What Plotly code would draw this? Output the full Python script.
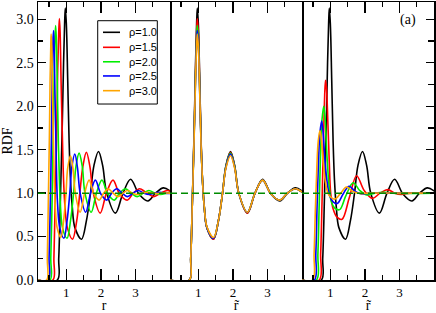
import plotly.graph_objects as go

# ---------------- data ----------------
labels = ["ρ=1.0", "ρ=1.5", "ρ=2.0", "ρ=2.5", "ρ=3.0"]
colors = ["#000000", "#ff0000", "#00ee00", "#0000ff", "#ffa500"]

# panel (left): g(r)
r_10 = [0.17, 0.74, 0.78, 0.83, 0.88, 0.92, 0.95, 0.97, 1.00, 1.04, 1.08, 1.12, 1.17, 1.25, 1.44, 1.58,
        1.70, 1.80, 1.93, 2.05, 2.17, 2.42, 2.64, 2.86, 3.10, 3.36, 3.58, 3.81, 4.02]
r_15 = [0.17, 0.61, 0.64, 0.68, 0.72, 0.75, 0.78, 0.80, 0.82, 0.85, 0.89, 0.92, 0.96, 1.03, 1.18, 1.30,
        1.39, 1.48, 1.58, 1.68, 1.78, 1.98, 2.16, 2.35, 2.54, 2.76, 2.94, 3.12, 3.30, 3.53, 3.73, 3.92, 4.12]
r_20 = [0.17, 0.53, 0.55, 0.59, 0.62, 0.65, 0.67, 0.69, 0.71, 0.74, 0.77, 0.80, 0.83, 0.89, 1.02, 1.12,
        1.21, 1.28, 1.37, 1.46, 1.54, 1.72, 1.87, 2.03, 2.20, 2.39, 2.54, 2.71, 2.85, 3.05, 3.23, 3.39,
        3.56, 3.73, 3.91, 4.08]
r_25 = [0.17, 0.48, 0.50, 0.54, 0.57, 0.59, 0.61, 0.63, 0.645, 0.67, 0.70, 0.72, 0.75, 0.81, 0.93, 1.02,
        1.10, 1.16, 1.245, 1.32, 1.40, 1.56, 1.70, 1.84, 2.00, 2.17, 2.31, 2.46, 2.59, 2.77, 2.93, 3.08,
        3.24, 3.39, 3.55, 3.71, 3.87, 4.03]
r_30 = [0.17, 0.43, 0.45, 0.48, 0.51, 0.53, 0.55, 0.56, 0.58, 0.60, 0.63, 0.65, 0.68, 0.73, 0.84, 0.92,
        0.99, 1.04, 1.12, 1.19, 1.26, 1.40, 1.53, 1.66, 1.80, 1.95, 2.08, 2.21, 2.33, 2.49, 2.64, 2.77,
        2.91, 3.05, 3.19, 3.34, 3.48, 3.63, 3.77, 4.06]

# panel (middle): g(r~), same curves on the reduced distance
rt_all = [0.17, 0.74, 0.78, 0.83, 0.88, 0.92, 0.95, 0.97, 1.00, 1.04, 1.08, 1.12, 1.17, 1.25, 1.44, 1.58,
          1.70, 1.80, 1.93, 2.05, 2.17, 2.42, 2.64, 2.86, 3.10, 3.36, 3.58, 3.81, 4.02, 4.30, 4.55, 4.78,
          5.02, 5.25, 5.50, 5.75, 6.00, 6.25, 6.50, 7.00]

g_10 = [0, 0, 0.25, 0.95, 1.75, 2.50, 2.95, 3.13, 2.95, 2.30, 1.60, 1.15, 0.85, 0.60, 0.47, 0.68,
        1.00, 1.32, 1.48, 1.32, 1.00, 0.77, 1.00, 1.16, 0.99, 0.91, 1.00, 1.06, 1.02]
g_15 = [0, 0, 0.25, 0.95, 1.72, 2.42, 2.85, 3.01, 2.85, 2.25, 1.58, 1.15, 0.85, 0.60, 0.47, 0.68,
        1.00, 1.31, 1.47, 1.31, 1.00, 0.77, 1.00, 1.15, 0.99, 0.92, 1.00, 1.05, 1.01, 0.96, 1.00, 1.03, 1.00]
g_20 = [0, 0, 0.25, 0.95, 1.70, 2.38, 2.78, 2.93, 2.78, 2.20, 1.56, 1.15, 0.85, 0.60, 0.48, 0.68,
        1.00, 1.31, 1.46, 1.31, 1.00, 0.78, 1.00, 1.15, 0.99, 0.92, 1.00, 1.05, 1.01, 0.96, 1.00, 1.03,
        1.00, 0.985, 1.00, 1.01]
g_25 = [0, 0, 0.25, 0.95, 1.68, 2.34, 2.73, 2.87, 2.73, 2.17, 1.55, 1.15, 0.85, 0.60, 0.48, 0.68,
        1.00, 1.30, 1.45, 1.30, 1.00, 0.78, 1.00, 1.15, 0.99, 0.92, 1.00, 1.05, 1.01, 0.96, 1.00, 1.03,
        1.00, 0.985, 1.00, 1.01, 1.00, 0.995]
g_30 = [0, 0, 0.25, 0.95, 1.66, 2.31, 2.69, 2.83, 2.69, 2.15, 1.54, 1.15, 0.85, 0.61, 0.49, 0.68,
        1.00, 1.29, 1.43, 1.29, 1.00, 0.78, 1.00, 1.15, 0.99, 0.92, 1.00, 1.05, 1.01, 0.96, 1.00, 1.03,
        1.00, 0.985, 1.00, 1.01, 1.00, 0.995, 1.00, 1.00]

# panel (right): second reduced representation
p3_r_15 = [0.17, 0.68, 0.72, 0.76, 0.80, 0.83, 0.86, 0.89, 0.93, 0.97, 1.01, 1.08, 1.20, 1.34, 1.55,
           1.76, 1.98, 2.22, 2.44, 2.66, 2.86, 3.05, 3.30, 3.55, 4.02]
p3_g_15 = [0, 0, 0.30, 0.90, 1.60, 2.05, 2.30, 2.20, 1.80, 1.35, 1.00, 0.82, 0.72, 0.70, 0.95,
           1.20, 1.03, 0.94, 1.00, 1.04, 1.00, 0.985, 1.00, 1.005, 1.00]
p3_r_20 = [0.17, 0.60, 0.64, 0.68, 0.72, 0.76, 0.81, 0.85, 0.90, 0.96, 1.03, 1.12, 1.27, 1.45, 1.66,
           1.85, 2.05, 2.30, 2.55, 2.80, 4.02]
p3_g_20 = [0, 0, 0.30, 0.90, 1.50, 1.85, 2.00, 1.85, 1.45, 1.10, 0.90, 0.83, 0.81, 0.97, 1.12,
           1.03, 0.98, 1.00, 1.01, 1.00, 1.00]
p3_r_25 = [0.17, 0.54, 0.58, 0.62, 0.66, 0.70, 0.75, 0.79, 0.84, 0.90, 0.98, 1.08, 1.20, 1.37, 1.54,
           1.72, 1.90, 2.15, 4.02]
p3_g_25 = [0, 0, 0.30, 0.90, 1.40, 1.70, 1.83, 1.70, 1.40, 1.15, 0.97, 0.90, 0.88, 0.99, 1.08,
           1.02, 0.99, 1.00, 1.00]
p3_r_30 = [0.17, 0.49, 0.53, 0.57, 0.61, 0.65, 0.70, 0.74, 0.79, 0.85, 0.93, 1.02, 1.13, 1.30, 1.47,
           1.65, 1.85, 2.10, 4.02]
p3_g_30 = [0, 0, 0.30, 0.85, 1.30, 1.60, 1.72, 1.62, 1.38, 1.15, 1.00, 0.95, 0.93, 1.00, 1.07,
           1.02, 0.995, 1.00, 1.00]

ytick_vals = [0.0, 0.5, 1.0, 1.5, 2.0, 2.5, 3.0]
ytick_text = ["0.0", "0.5", "1.0", "1.5", "2.0", "2.5", "3.0"]
xtick_vals = [1, 2, 3]
xtick_text = ["1", "2", "3"]
reference_level = 1.0

# ---------------- figure ----------------
panel1 = [(r_10, g_10), (r_15, g_15), (r_20, g_20), (r_25, g_25), (r_30, g_30)]
panel2 = [(rt_all[:len(g)], g) for g in (g_10, g_15, g_20, g_25, g_30)]
panel3 = [(r_10, g_10), (p3_r_15, p3_g_15), (p3_r_20, p3_g_20), (p3_r_25, p3_g_25), (p3_r_30, p3_g_30)]

fig = go.Figure()
for ax_i, panel in enumerate([panel1, panel2, panel3], start=1):
    sfx = "" if ax_i == 1 else str(ax_i)
    for k, (xs, ys) in enumerate(panel):
        fig.add_trace(go.Scatter(
            x=xs, y=ys, mode="lines", name=labels[k],
            line=dict(color=colors[k], width=1.6, shape="spline", smoothing=1.0),
            showlegend=False, xaxis="x" + sfx, yaxis="y" + sfx, hoverinfo="skip"))

for sfx in ["", "2", "3"]:
    fig.add_shape(type="line", xref="x" + sfx + " domain", yref="y" + sfx,
                  x0=0, x1=1, y0=reference_level, y1=reference_level,
                  line=dict(color="#008b00", width=1.5, dash="7px,4px"), layer="above")

# plot area: x 38..434, y 2..280 (396 x 278 px)
sans = "Liberation Sans, Arial, sans-serif"
leg_x0, leg_x1, leg_y0, leg_y1 = 0.1508, 0.3013, 0.633, 0.9327
entry_y = [0.891, 0.837, 0.785, 0.734, 0.681]
fig.add_shape(type="rect", xref="paper", yref="paper", x0=leg_x0, x1=leg_x1, y0=leg_y0, y1=leg_y1,
              line=dict(color="black", width=1), fillcolor="white", layer="above")
annotations = []
for k in range(5):
    fig.add_shape(type="line", xref="paper", yref="paper", x0=0.1641, x1=0.2071,
                  y0=entry_y[k], y1=entry_y[k], line=dict(color=colors[k], width=1.6), layer="above")
    annotations.append(dict(text=labels[k], xref="paper", yref="paper", x=0.2235, y=entry_y[k],
                            xanchor="left", yanchor="middle", showarrow=False,
                            font=dict(family=sans, size=11, color="black")))

serif = "Liberation Serif, Times New Roman, serif"
annotations.append(dict(text="(a)", xref="paper", yref="paper", x=0.9356, y=0.935, showarrow=False,
                        xanchor="center", yanchor="middle", font=dict(family=serif, size=14, color="black")))

xcommon = dict(range=[0.18, 4.0], tickvals=xtick_vals, ticktext=xtick_text, ticks="inside", ticklen=11,
               tickwidth=1.3, tickcolor="black", showline=True, linecolor="black", linewidth=1.5,
               mirror="ticks", showgrid=False, zeroline=False, automargin=False,
               minor=dict(dtick=0.5, tick0=0, ticks="inside", ticklen=5, tickwidth=1.3, tickcolor="black"),
               tickfont=dict(family=serif, size=13, color="black"))
ycommon = dict(range=[0, 3.2], showline=True, linecolor="black", linewidth=1.5, showgrid=False,
               zeroline=False, automargin=False)
xtitle_font = dict(family=serif, size=14, color="black")

fig.update_layout(
    width=436, height=313,
    margin=dict(l=38, r=2, t=2, b=33),
    paper_bgcolor="white", plot_bgcolor="white",
    showlegend=False,
    xaxis=dict(domain=[0, 1/3], anchor="y", title=dict(text="r", font=xtitle_font, standoff=4), **xcommon),
    xaxis2=dict(domain=[1/3, 2/3], anchor="y2", title=dict(text="r\u0303", font=xtitle_font, standoff=4),
                **xcommon),
    xaxis3=dict(domain=[2/3, 1], anchor="y3", title=dict(text="r\u0303", font=xtitle_font, standoff=4),
                **xcommon),
    yaxis=dict(domain=[0, 1], anchor="x", tickvals=ytick_vals, ticktext=ytick_text, ticks="inside",
               ticklen=8, tickwidth=1.3, tickcolor="black", mirror=True,
               minor=dict(dtick=0.25, tick0=0, ticks="inside", ticklen=5, tickwidth=1.3, tickcolor="black"),
               tickfont=dict(family=serif, size=14, color="black"),
               title=dict(text="RDF", font=dict(family=serif, size=14, color="black"), standoff=2),
               **ycommon),
    yaxis2=dict(domain=[0, 1], anchor="x2", side="right", ticks="", showticklabels=False, mirror=False,
                **ycommon),
    yaxis3=dict(domain=[0, 1], anchor="x3", side="right", tickvals=ytick_vals, ticks="inside", ticklen=8,
                tickwidth=1.3, tickcolor="black", showticklabels=False, mirror=False,
                minor=dict(dtick=0.25, tick0=0, ticks="inside", ticklen=6, tickwidth=1.3, tickcolor="black"),
                **ycommon),
    annotations=annotations,
)

fig.write_html("out.html", config={"displayModeBar": False, "staticPlot": True},
               post_script="document.body.style.margin='0px';document.body.style.overflow='hidden';")
